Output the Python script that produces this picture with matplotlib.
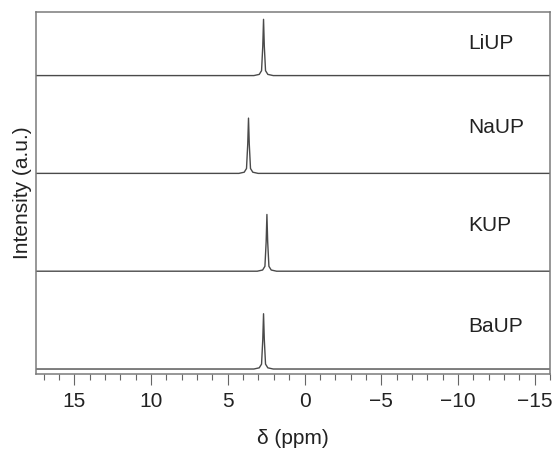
import matplotlib as mpl
import matplotlib.pyplot as plt
from matplotlib.ticker import MultipleLocator

mpl.rcParams['font.family'] = ['Liberation Sans', 'DejaVu Sans']

# spectra (ppm, normalised intensity)
li_ppm = [17.5, 3.3, 2.95, 2.8, 2.72, 2.67, 2.62, 2.54, 2.39, 2.04, -16.0]
li_int = [0.0, 0.0, 0.012, 0.05, 0.30, 0.575, 0.30, 0.05, 0.012, 0.0, 0.0]
na_ppm = [17.5, 4.28, 3.93, 3.78, 3.7, 3.65, 3.6, 3.52, 3.37, 3.02, -16.0]
na_int = [0.0, 0.0, 0.012, 0.05, 0.30, 0.565, 0.30, 0.05, 0.012, 0.0, 0.0]
k_ppm = [17.5, 3.08, 2.73, 2.58, 2.5, 2.45, 2.4, 2.32, 2.17, 1.82, -16.0]
k_int = [0.0, 0.0, 0.012, 0.05, 0.30, 0.58, 0.30, 0.05, 0.012, 0.0, 0.0]
ba_ppm = [17.5, 3.3, 2.95, 2.8, 2.72, 2.67, 2.62, 2.54, 2.39, 2.04, -16.0]
ba_int = [0.0, 0.0, 0.012, 0.05, 0.30, 0.565, 0.30, 0.05, 0.012, 0.0, 0.0]

names = ['LiUP', 'NaUP', 'KUP', 'BaUP']
offsets = [3, 2, 1, 0]
label_y = [3.33, 2.47, 1.47, 0.43]

spectra = [(li_ppm, li_int), (na_ppm, na_int), (k_ppm, k_int), (ba_ppm, ba_int)]

fig = plt.figure(figsize=(5.57, 4.53), dpi=100)
ax = fig.add_axes([36/557, 1-374/453, 514/557, 362/453])

for (x, y), off, name, ly in zip(spectra, offsets, names, label_y):
    ax.plot(x, [v + off for v in y], color='#4a4a4a', lw=1.0)
    ax.text(-10.7, ly, name, fontsize=15, ha='left', va='center', color='#222222')

ax.set_xlim(17.5, -16.0)
ax.set_ylim(-0.051, 3.65)

#X axis
ax.xaxis.set_major_locator(MultipleLocator(5))
ax.xaxis.set_minor_locator(MultipleLocator(1))
ax.tick_params(axis='x', which='major', direction='out', length=8, width=0.8,
               color='#666666', labelsize=15, pad=5, labelcolor='#222222')
ax.tick_params(axis='x', which='minor', direction='out', length=4.5, width=0.8,
               color='#666666')
ax.set_xlabel('δ (ppm)', fontsize=15, color='#222222', labelpad=13)

#Y axis
ax.set_yticks([])
ax.set_ylabel('Intensity (a.u.)', fontsize=15, color='#222222', labelpad=3)

for spine in ax.spines.values():
    spine.set_color('#7a7a7a')
    spine.set_linewidth(1.1)

fig.savefig('out.png', dpi=100)
